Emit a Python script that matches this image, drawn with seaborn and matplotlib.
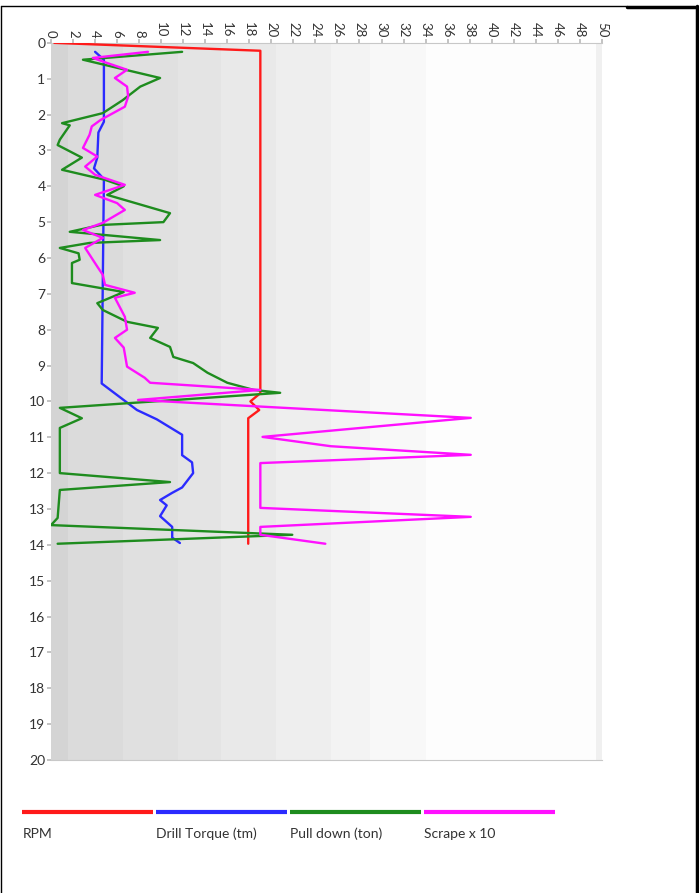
import numpy as np
import pandas as pd
import seaborn as sns
import matplotlib.pyplot as plt
from matplotlib.lines import Line2D

sns.set_theme(style="white")
plt.rcParams['font.family'] = ['Lato', 'DejaVu Sans']

# Dados (profundidade em m)
rpm_prof = [0, 0.22, 9.77, 10.0, 10.24, 10.47, 13.97]
rpm_val = [0.3, 19.0, 19.0, 18.1, 18.9, 17.9, 17.9]

torque_prof = [0.25, 0.47, 2.2, 2.5, 3.2, 3.5, 3.8, 9.5, 10.24, 10.5, 10.93,
               11.5, 11.7, 12.0, 12.4, 12.55, 12.75, 12.9, 13.2, 13.5, 13.8, 13.95]
torque_val = [4.0, 4.8, 4.8, 4.3, 4.2, 3.9, 4.8, 4.6, 7.8, 9.6, 11.9,
              11.9, 12.8, 12.9, 11.9, 11.0, 9.9, 10.5, 9.9, 11.0, 11.0, 11.7]

pull_prof = [0.25, 0.47, 0.98, 1.22, 1.6, 1.96, 2.24, 2.3, 2.7, 2.85, 3.2, 3.54,
             3.82, 4.0, 4.24, 4.75, 5.0, 5.08, 5.27, 5.5, 5.58, 5.72, 5.87, 6.05,
             6.14, 6.7, 6.95, 7.26, 7.45, 7.78, 7.95, 8.23, 8.48, 8.76, 8.93, 9.2,
             9.48, 9.68, 9.76, 10.18, 10.47, 10.74, 12.0, 12.25, 12.47, 13.25,
             13.45, 13.72, 13.97]
pull_val = [11.9, 2.9, 9.9, 8.1, 6.5, 4.7, 1.0, 1.7, 0.8, 0.6, 2.8, 1.0,
            4.9, 6.6, 5.1, 10.8, 10.2, 4.5, 1.7, 9.9, 3.5, 0.8, 2.5, 2.6,
            1.9, 1.9, 6.6, 4.2, 4.7, 6.9, 9.7, 9.0, 10.8, 11.1, 12.9, 14.2,
            16.0, 18.4, 20.8, 0.8, 2.8, 0.8, 0.8, 10.8, 0.8, 0.6,
            0.0, 21.9, 0.6]

scrape_prof = [0.25, 0.42, 0.52, 0.75, 0.98, 1.22, 1.5, 1.78, 2.15, 2.33, 2.56,
               2.93, 3.17, 3.45, 3.68, 3.96, 4.24, 4.47, 4.66, 5.02, 5.22, 5.44,
               5.72, 6.24, 6.47, 6.75, 6.97, 7.11, 7.64, 8.0, 8.23, 8.5, 9.03,
               9.34, 9.48, 9.68, 9.96, 10.46, 10.99, 11.25, 11.49, 11.72, 12.97,
               13.22, 13.5, 13.72, 13.97]
scrape_val = [8.8, 3.8, 4.7, 6.9, 5.8, 6.9, 7.0, 6.7, 4.5, 3.7, 3.5,
              2.9, 4.2, 3.1, 4.0, 6.7, 4.0, 6.0, 6.7, 4.7, 2.9, 4.7,
              3.1, 4.2, 4.7, 4.9, 7.6, 5.8, 6.7, 6.9, 5.8, 6.6, 6.9,
              8.5, 9.0, 19.0, 7.9, 38.1, 19.2, 25.4, 38.1, 19.0, 19.0,
              38.1, 19.0, 19.0, 24.9]

series = [
    ("RPM", rpm_prof, rpm_val, "#ff1a1a"),
    ("Drill Torque (tm)", torque_prof, torque_val, "#2b2bff"),
    ("Pull down (ton)", pull_prof, pull_val, "#1e8c1e"),
    ("Scrape x 10", scrape_prof, scrape_val, "#ff10ff"),
]

fig = plt.figure(figsize=(6.99, 8.93), dpi=100)
ax = fig.add_axes([0.073, 0.149, 0.788, 0.803])

# Fundo em faixas cinza (degradê)
faixas = [0, 1.5, 6.5, 11.5, 15.4, 20.4, 25.4, 29, 34, 49.5, 50]
cinzas = ["#d4d4d4", "#dbdbdb", "#e0e0e0", "#e4e4e4", "#e9e9e9",
          "#eeeeee", "#f3f3f3", "#f8f8f8", "#fdfdfd", "#f0f0f0"]
for x0, x1, c in zip(faixas[:-1], faixas[1:], cinzas):
    ax.axvspan(x0, x1, color=c, lw=0, zorder=0)

for nome, prof, val, cor in series:
    df = pd.DataFrame({"prof": prof, "val": val})
    sns.lineplot(data=df, x="val", y="prof", sort=False, orient="y",
                 estimator=None, color=cor, lw=1.7, ax=ax, zorder=3)

ax.set_xlim(0, 50)
ax.set_ylim(20, 0)
ax.xaxis.tick_top()
ax.set_xticks(np.arange(0, 51, 2))
ax.set_yticks(np.arange(0, 21, 1))
ax.tick_params(axis="x", labelsize=9.5, rotation=-90, length=3, color="#bbbbbb",
               pad=1, labelcolor="#333333")
ax.tick_params(axis="y", labelsize=10, length=3, color="#bbbbbb", pad=1,
               labelcolor="#333333")
ax.tick_params(top=True, left=True)
ax.set_xlabel("")
ax.set_ylabel("")
for s in ["top", "left", "bottom", "right"]:
    ax.spines[s].set_color("#c8c8c8")
    ax.spines[s].set_linewidth(0.8)
ax.spines["right"].set_visible(False)
ax.spines["left"].set_visible(False)

# Legenda: linha colorida com o texto abaixo
x_leg = 0.032
larg = 0.1874
passo = 0.1917
for nome, prof, val, cor in series:
    fig.add_artist(Line2D([x_leg, x_leg + larg], [0.091, 0.091],
                          color=cor, lw=3, solid_capstyle="butt",
                          transform=fig.transFigure))
    fig.text(x_leg, 0.066, nome, fontsize=10, color="#333333", va="center")
    x_leg += passo

# Moldura da página
fig.add_artist(Line2D([0.001, 0.897], [0.993, 0.993], color="black", lw=1,
                      transform=fig.transFigure))
fig.add_artist(Line2D([0.897, 0.997], [0.992, 0.992], color="black", lw=2.5,
                      transform=fig.transFigure))
fig.add_artist(Line2D([0.002, 0.002], [0.0, 0.993], color="black", lw=1,
                      transform=fig.transFigure))
fig.add_artist(Line2D([0.997, 0.997], [0.0, 0.993], color="black", lw=2.5,
                      transform=fig.transFigure))

fig.savefig("out.png", dpi=100)
